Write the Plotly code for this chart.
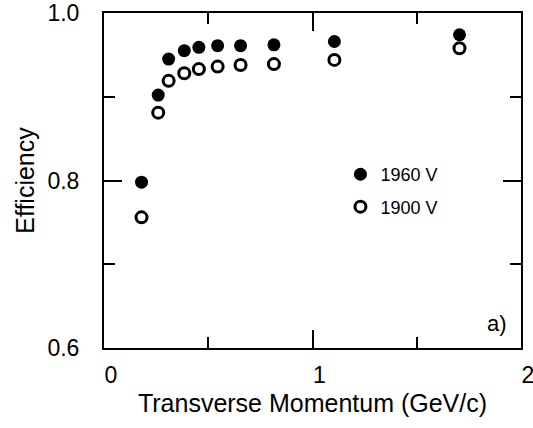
import plotly.graph_objects as go

# Transverse momentum bins (GeV/c) and measured efficiencies
pt = [0.18, 0.26, 0.31, 0.385, 0.455, 0.545, 0.655, 0.815, 1.105, 1.705]
eff_1960 = [0.798, 0.902, 0.945, 0.955, 0.959, 0.961, 0.961, 0.962, 0.966, 0.974]
eff_1900 = [0.756, 0.881, 0.919, 0.928, 0.933, 0.936, 0.938, 0.939, 0.944, 0.958]
series_names = ["1960 V", "1900 V"]

FONT = "Liberation Sans, Arial, sans-serif"

fig = go.Figure()
fig.add_trace(go.Scatter(
    x=pt, y=eff_1960, mode="markers", name=series_names[0],
    legendgroup="a",
    marker=dict(symbol="circle", size=13, color="black", line=dict(width=0)),
))
fig.add_trace(go.Scatter(
    x=pt, y=eff_1900, mode="markers", name=series_names[1],
    legendgroup="b",
    marker=dict(symbol="circle-open", size=11, color="black",
                line=dict(width=3, color="black")),
))

axis_common = dict(
    showline=True, linecolor="black", linewidth=2, mirror="allticks",
    ticks="inside", ticklen=18, tickwidth=1.5, tickcolor="black",
    showgrid=False, zeroline=False, automargin=False,
    tickfont=dict(family=FONT, size=23, color="black"),
)

fig.update_xaxes(
    range=[0, 2], tickmode="linear", tick0=0, dtick=1,
    minor=dict(ticks="inside", ticklen=11, tickwidth=1.5, tickcolor="black",
               dtick=0.5, showgrid=False),
    ticklabelshift=7, ticklabelstandoff=5, ticklabeloverflow="allow",
    title=dict(text="Transverse Momentum (GeV/c)",
               font=dict(family=FONT, size=25, color="black"), standoff=8),
    **axis_common,
)
fig.update_yaxes(
    range=[0.6, 1.0], tickmode="linear", tick0=0.6, dtick=0.2, tickformat=".1f",
    minor=dict(ticks="inside", ticklen=11, tickwidth=1.5, tickcolor="black",
               dtick=0.1, showgrid=False),
    ticklabelstandoff=18,
    title=dict(text="Efficiency",
               font=dict(family=FONT, size=25, color="black"), standoff=6),
    **axis_common,
)

fig.add_annotation(
    text="a)", x=0.942, y=0.072, xref="paper", yref="paper",
    xanchor="center", yanchor="middle", showarrow=False,
    font=dict(family=FONT, size=22, color="black"),
)

fig.update_layout(
    width=533, height=428,
    margin=dict(l=104, r=12, t=13, b=80),
    plot_bgcolor="white", paper_bgcolor="white",
    font=dict(family=FONT, color="black"),
    legend=dict(
        x=0.567, y=0.47, xanchor="left", yanchor="middle",
        bgcolor="rgba(0,0,0,0)", borderwidth=0,
        font=dict(family=FONT, size=18, color="black"),
        itemwidth=30, traceorder="grouped", tracegroupgap=6,
    ),
    showlegend=True,
)

fig.write_html("out.html")
